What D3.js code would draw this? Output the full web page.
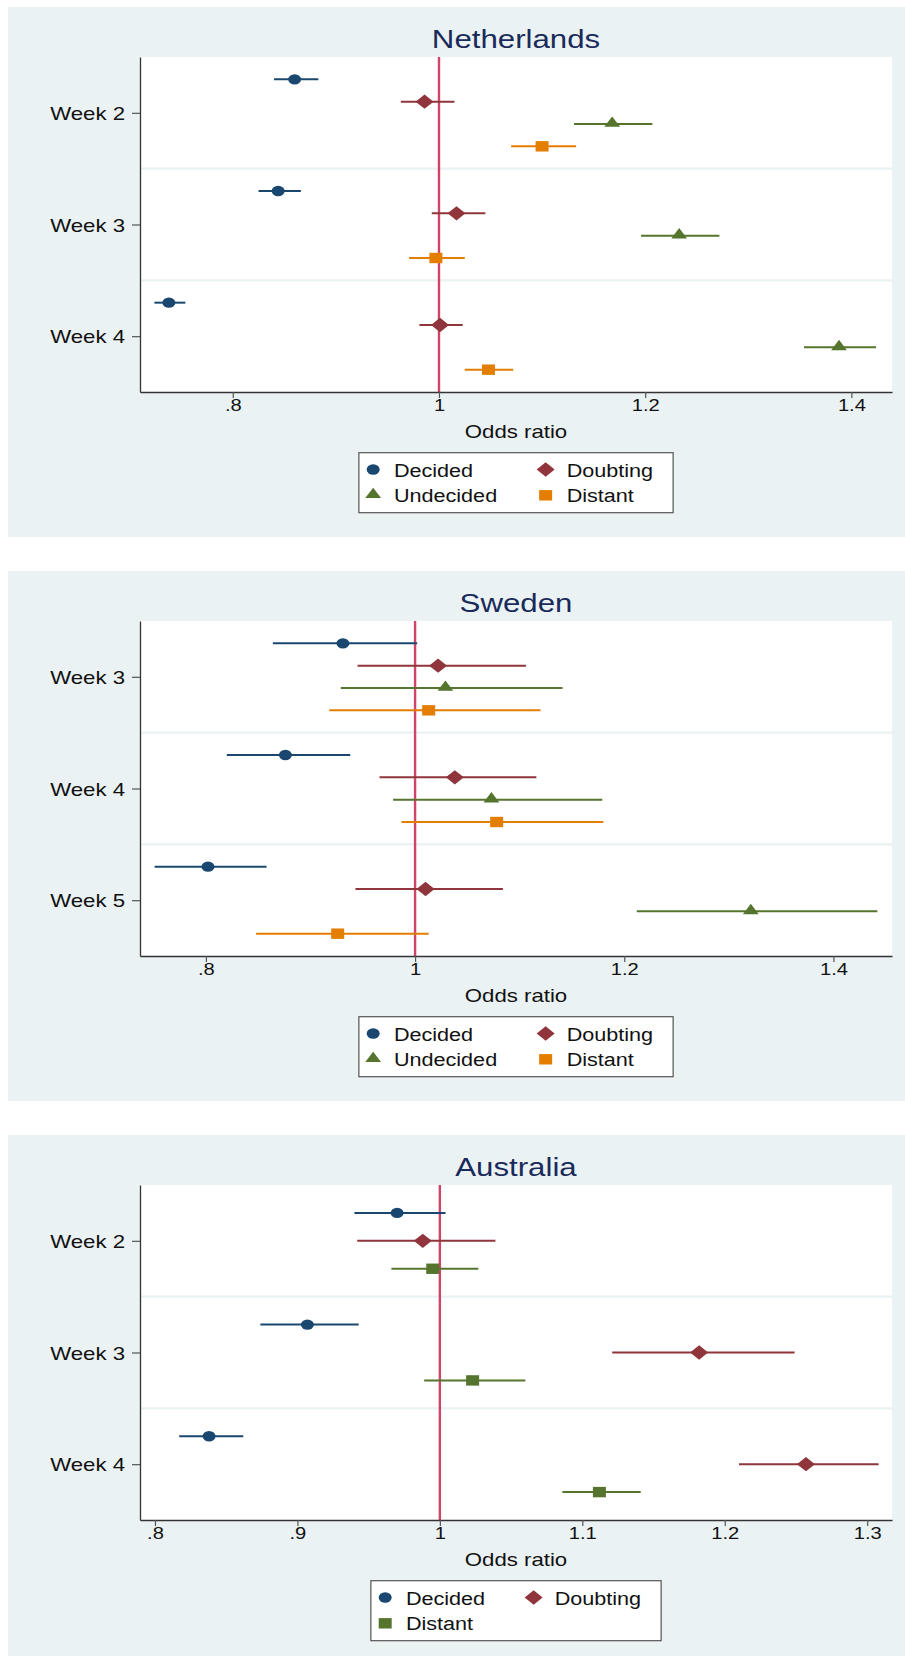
<!DOCTYPE html>
<html>
<head>
<meta charset="utf-8">
<script src="https://cdn.jsdelivr.net/npm/d3@7"></script>
<style>
  html, body { margin: 0; padding: 0; background: #ffffff; }
  svg { display: block; }
</style>
</head>
<body>
<div id="chart"></div>
<script>
// ---------------- DATA (odds ratio, lower CI, upper CI) ----------------
const groupNames4 = ["Decided", "Doubting", "Undecided", "Distant"];
const groupNames3 = ["Decided", "Doubting", "Distant"];

// Netherlands
const nlWeeks = ["Week 2", "Week 3", "Week 4"];
const nlDecided   = [[0.860, 0.840, 0.883], [0.844, 0.825, 0.866], [0.738, 0.724, 0.754]];
const nlDoubting  = [[0.986, 0.963, 1.015], [1.017, 0.993, 1.045], [1.001, 0.981, 1.023]];
const nlUndecided = [[1.168, 1.131, 1.207], [1.233, 1.196, 1.272], [1.388, 1.354, 1.424]];
const nlDistant   = [[1.100, 1.070, 1.133], [0.997, 0.971, 1.025], [1.048, 1.025, 1.072]];
const nlTicks = [0.8, 1, 1.2, 1.4];
const nlDomain = [0.710, 1.4394];

// Sweden
const seWeeks = ["Week 3", "Week 4", "Week 5"];
const seDecided   = [[0.931, 0.864, 1.002], [0.876, 0.820, 0.938], [0.802, 0.751, 0.858]];
const seDoubting  = [[1.022, 0.945, 1.106], [1.038, 0.966, 1.116], [1.010, 0.943, 1.084]];
const seUndecided = [[1.029, 0.929, 1.141], [1.073, 0.979, 1.179], [1.321, 1.212, 1.442]];
const seDistant   = [[1.013, 0.918, 1.120], [1.078, 0.987, 1.180], [0.926, 0.848, 1.013]];
const seTicks = [0.8, 1, 1.2, 1.4];
const seDomain = [0.737, 1.456];

// Australia
const auWeeks = ["Week 2", "Week 3", "Week 4"];
const auDecided  = [[0.970, 0.940, 1.004], [0.907, 0.874, 0.943], [0.838, 0.817, 0.862]];
const auDoubting = [[0.988, 0.942, 1.039], [1.182, 1.121, 1.249], [1.257, 1.210, 1.308]];
const auDistant  = [[0.995, 0.966, 1.027], [1.023, 0.989, 1.060], [1.112, 1.086, 1.141]];
const auTicks = [0.8, 0.9, 1, 1.1, 1.2, 1.3];
const auDomain = [0.7895, 1.3174];

// ---------------- STYLE ----------------
const FONT = "'Liberation Sans', Arial, Helvetica, sans-serif";
const STRETCH = 1.2;
const BG = "#eaf2f3";
const NAVY = "#1a476f", MAROON = "#90353b", GREEN = "#55752f", ORANGE = "#e37e00";

const panels = [
  { title: "Netherlands", weeks: nlWeeks, groups: groupNames4,
    series: [nlDecided, nlDoubting, nlUndecided, nlDistant],
    colors: [NAVY, MAROON, GREEN, ORANGE], shapes: ["circle", "diamond", "triangle", "square"],
    domain: nlDomain, ticks: nlTicks },
  { title: "Sweden", weeks: seWeeks, groups: groupNames4,
    series: [seDecided, seDoubting, seUndecided, seDistant],
    colors: [NAVY, MAROON, GREEN, ORANGE], shapes: ["circle", "diamond", "triangle", "square"],
    domain: seDomain, ticks: seTicks },
  { title: "Australia", weeks: auWeeks, groups: groupNames3,
    series: [auDecided, auDoubting, auDistant],
    colors: [NAVY, MAROON, GREEN], shapes: ["circle", "diamond", "square"],
    domain: auDomain, ticks: auTicks }
];

const W = 905, H = 1656;
const svg = d3.select("#chart").append("svg").attr("width", W).attr("height", H);

function stretch(sel) {
  sel.each(function () {
    const w = this.getComputedTextLength();
    this.__rawW = w;
    if (w > 0) d3.select(this).attr("textLength", w * STRETCH).attr("lengthAdjust", "spacingAndGlyphs");
  });
}

function drawMarker(g, shape, color, x, y) {
  if (shape === "circle") {
    g.append("ellipse").attr("cx", x).attr("cy", y).attr("rx", 6.5).attr("ry", 5.2).attr("fill", color);
  } else if (shape === "diamond") {
    g.append("path").attr("transform", `translate(${x},${y})`)
      .attr("d", "M0,-7.2L9,0L0,7.2L-9,0Z").attr("fill", color);
  } else if (shape === "triangle") {
    g.append("path").attr("transform", `translate(${x},${y})`)
      .attr("d", "M0,-7.6L7.9,2.8L-7.9,2.8Z").attr("fill", color);
  } else if (shape === "square") {
    g.append("rect").attr("x", x - 6.5).attr("y", y - 5.2).attr("width", 13).attr("height", 10.4).attr("fill", color);
  }
}

const PANEL_STEP = 564;
panels.forEach((p, pi) => {
  const top = 7 + pi * PANEL_STEP;
  const g = svg.append("g");
  // background
  g.append("rect").attr("x", 8).attr("y", top).attr("width", W - 8).attr("height", 530).attr("fill", BG);

  const left = 140, right = 892, pTop = top + 50, pBot = top + 385;
  const cx = (left + right) / 2;
  g.append("rect").attr("x", left).attr("y", pTop).attr("width", right - left).attr("height", pBot - pTop).attr("fill", "#ffffff");

  const ng = p.groups.length;
  const x = d3.scaleLinear().domain(p.domain).range([left, right]);
  const y = d3.scaleLinear().domain([-1, 3 * (ng + 1) - 1]).range([pTop, pBot]);

  // separators
  [1, 2].forEach(w => {
    const r = w * (ng + 1) - 1;
    g.append("line").attr("x1", left).attr("x2", right).attr("y1", y(r)).attr("y2", y(r))
      .attr("stroke", BG).attr("stroke-width", 2.2);
  });

  // title
  g.append("text").attr("x", cx).attr("y", top + 41.3).attr("text-anchor", "middle")
    .attr("font-family", FONT).attr("font-size", 26).attr("fill", "#1a2a5a").text(p.title).call(stretch);

  // reference line at OR = 1
  g.append("line").attr("x1", x(1)).attr("x2", x(1)).attr("y1", pTop).attr("y2", pBot)
    .attr("stroke", "#d0446a").attr("stroke-width", 2.4);

  // data
  p.series.forEach((ser, si) => {
    ser.forEach((d, wi) => {
      const yy = y(wi * (ng + 1) + si);
      g.append("line").attr("x1", x(d[1])).attr("x2", x(d[2])).attr("y1", yy).attr("y2", yy)
        .attr("stroke", p.colors[si]).attr("stroke-width", 2);
      drawMarker(g, p.shapes[si], p.colors[si], x(d[0]), yy);
    });
  });

  // y axis
  const yAxis = d3.axisLeft(y)
    .tickValues(p.weeks.map((w, i) => i * (ng + 1) + (ng - 1) / 2))
    .tickFormat((d, i) => p.weeks[i]).tickSize(8).tickSizeOuter(0).tickPadding(7);
  const ya = g.append("g").attr("transform", `translate(${left},0)`).call(yAxis);
  ya.select(".domain").attr("stroke", "#333").attr("stroke-width", 1.3);
  ya.selectAll(".tick line").attr("stroke", "#555").attr("stroke-width", 1.2);
  ya.selectAll(".tick text").attr("font-family", FONT).attr("font-size", 18.5).attr("fill", "#111")
    .attr("dy", "0.36em").call(stretch);

  // x axis
  const fmt = v => d3.format("")(v).replace(/^0\./, ".");
  const xAxis = d3.axisBottom(x).tickValues(p.ticks).tickFormat(fmt).tickSize(6).tickSizeOuter(0).tickPadding(1);
  const xa = g.append("g").attr("transform", `translate(0,${pBot})`).call(xAxis);
  xa.select(".domain").attr("stroke", "#333").attr("stroke-width", 1.3);
  xa.selectAll(".tick line").attr("stroke", "#555").attr("stroke-width", 1.2);
  xa.selectAll(".tick text").attr("font-family", FONT).attr("font-size", 16.8).attr("fill", "#111").call(stretch);

  g.append("text").attr("x", cx).attr("y", pBot + 46).attr("text-anchor", "middle")
    .attr("font-family", FONT).attr("font-size", 18.5).attr("fill", "#111").text("Odds ratio").call(stretch);

  // legend
  const lg = g.append("g");
  const box = lg.append("rect");
  const items = p.groups.map((name, i) => ({ name, i, col: i % 2, row: Math.floor(i / 2) }));
  const texts = lg.selectAll("text.leg").data(items).enter().append("text").attr("class", "leg")
    .attr("font-family", FONT).attr("font-size", 18).attr("fill", "#111").text(d => d.name).call(stretch);
  const widths = [];
  texts.each(function (d) { widths[d.i] = this.__rawW * STRETCH; });
  const colW = [0, 1].map(c => d3.max(items.filter(d => d.col === c), d => widths[d.i]) || 0);
  const m1 = 14.3, t1 = m1 + 20.7, m2 = t1 + colW[0] + 48.5, t2 = m2 + 21;
  const boxW = t2 + colW[1] + 20;
  const rowY = [16.8, 42.6];
  texts.attr("x", d => d.col === 0 ? t1 : t2).attr("y", d => rowY[d.row] + 7.2);
  items.forEach(d => drawMarker(lg, p.shapes[d.i], p.colors[d.i], d.col === 0 ? m1 : m2, rowY[d.row]));
  box.attr("x", 0).attr("y", 0).attr("width", boxW).attr("height", 60)
    .attr("fill", "#ffffff").attr("stroke", "#555").attr("stroke-width", 1.2);
  lg.attr("transform", `translate(${cx - boxW / 2},${pBot + 60.7})`);
});
</script>
</body>
</html>
